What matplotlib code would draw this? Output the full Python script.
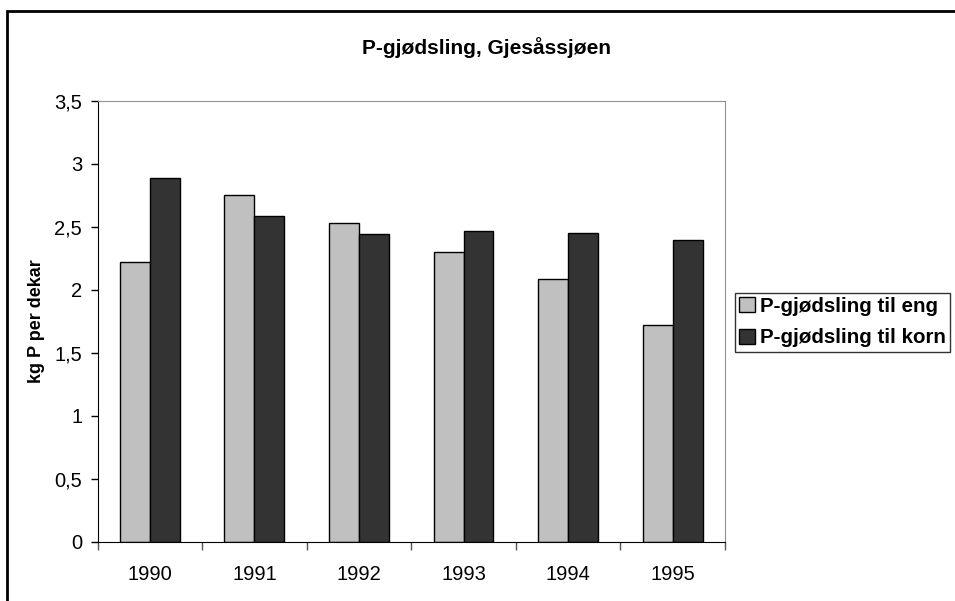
import matplotlib.pyplot as plt
import numpy as np
from matplotlib.patches import Rectangle

plt.rcParams["font.family"] = ["Liberation Sans", "DejaVu Sans"]

years = ["1990", "1991", "1992", "1993", "1994", "1995"]
eng = [2.22, 2.75, 2.53, 2.30, 2.09, 1.72]
korn = [2.89, 2.59, 2.44, 2.47, 2.45, 2.40]
y_ticks = [0, 0.5, 1, 1.5, 2, 2.5, 3, 3.5]
y_labels = ["0", "0,5", "1", "1,5", "2", "2,5", "3", "3,5"]

W, H = 955, 601
fig = plt.figure(figsize=(W / 100, H / 100), dpi=100)

# axes box in pixel coords: left 97, right 725, top 101, bottom 542
left, right, top, bottom = 97.5, 725, 101, 541.7
ax = fig.add_axes([left / W, 1 - bottom / H, (right - left) / W, (bottom - top) / H])

x = np.arange(len(years))
width = 1 / 3.5
ax.bar(x - width / 2, eng, width, color="#c0c0c0", edgecolor="black", linewidth=1,
       label="P-gjødsling til eng")
ax.bar(x + width / 2, korn, width, color="#333333", edgecolor="black", linewidth=1,
       label="P-gjødsling til korn")

ax.set_xlim(-0.5, len(years) - 0.5)
ax.set_ylim(0, 3.5)
ax.set_yticks(y_ticks)
ax.set_yticklabels(y_labels, fontsize=14.5)
ax.set_xticks(x)
ax.set_xticklabels(years, fontsize=14.5)
ax.tick_params(axis="x", length=0, pad=17)
ax.set_xticks(np.arange(-0.5, len(years)), minor=True)
ax.tick_params(axis="x", which="minor", length=6, width=1, color="#555555")
ax.tick_params(axis="y", length=5, width=1, pad=6)

for side in ["top", "right"]:
    ax.spines[side].set_color("#909090")
for side in ["left", "bottom"]:
    ax.spines[side].set_color("black")

ax.set_ylabel("kg P per dekar", fontsize=13, fontweight="bold", labelpad=7)

fig.text(486 / W, 1 - 48 / H, "P-gjødsling, Gjesåssjøen", fontsize=15,
         fontweight="bold", ha="center", va="center")

leg = fig.legend(loc="upper left", bbox_to_anchor=(735 / W, 1 - 293 / H),
                 prop={"weight": "bold", "size": 14.8},
                 frameon=True, fancybox=False, edgecolor="black",
                 handlelength=0.75, handleheight=0.75, handletextpad=0.25,
                 borderpad=0.2, labelspacing=0.6, borderaxespad=0)
leg.get_frame().set_linewidth(1)

# outer chart border
fig.patches.append(Rectangle((7 / W, -0.05), 1.1, 1 - 11 / H + 0.05,
                             transform=fig.transFigure, fill=False,
                             edgecolor="black", linewidth=2))

fig.savefig("out.png", dpi=100)
